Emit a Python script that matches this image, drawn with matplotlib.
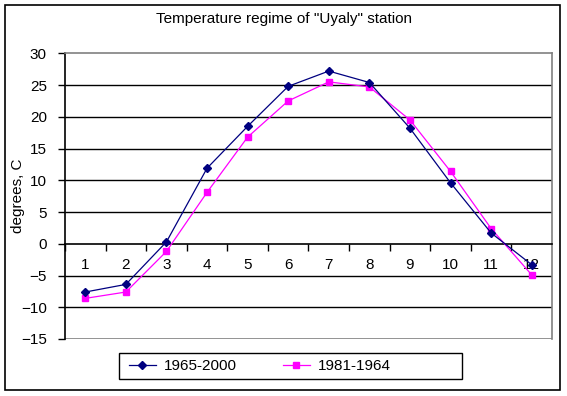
import matplotlib
matplotlib.use('Agg')
import matplotlib.pyplot as plt
from matplotlib.patches import Rectangle

months = [1, 2, 3, 4, 5, 6, 7, 8, 9, 10, 11, 12]
month_labels = ['1', '2', '3', '4', '5', '6', '7', '8', '9', '10', '11', '12']
temp_1965_2000 = [-7.6, -6.4, 0.3, 11.9, 18.5, 24.8, 27.2, 25.4, 18.2, 9.6, 1.7, -3.3]
temp_1981_1964 = [-8.6, -7.6, -1.2, 8.1, 16.8, 22.5, 25.5, 24.7, 19.5, 11.4, 2.4, -4.9]
y_ticks = [-15, -10, -5, 0, 5, 10, 15, 20, 25, 30]
grid_levels = [-10, -5, 5, 10, 15, 20, 25]

plt.rcParams['font.family'] = ['Liberation Sans', 'DejaVu Sans']
plt.rcParams['font.size'] = 11

fig = plt.figure(figsize=(5.67, 3.96), dpi=100)
ax = fig.add_axes([65 / 567, 1 - 339 / 396, 487 / 567, (339 - 53.3) / 396])

ax.hlines(grid_levels, 0.5, 12.5, colors='black', linewidth=1, zorder=1)
ax.axhline(-15, color='#808080', linewidth=1.2, zorder=1)

ax.plot(months, temp_1965_2000, color='#000080', linewidth=0.9, marker='D',
        markersize=4.2, label='1965-2000', zorder=4)
ax.plot(months, temp_1981_1964, color='#FF00FF', linewidth=0.9, marker='s',
        markersize=4.2, label='1981-1964', zorder=3)

ax.set_xlim(0.5, 12.5)
ax.set_ylim(-15, 30)

ax.spines['bottom'].set_position(('data', 0))
ax.spines['bottom'].set_color('black')
ax.spines['left'].set_color('black')
ax.spines['top'].set_color('#808080')
ax.spines['right'].set_color('#808080')
for s in ax.spines.values():
    s.set_linewidth(1.2)

# ticks at category boundaries, labels at category centers
ax.set_xticks([m + 0.5 for m in months[:-1]] + [0.5])
ax.set_xticklabels([])
ax.tick_params(axis='x', which='major', direction='out', length=5, width=1, color='black')
ax.set_xticks(months, minor=True)
ax.set_xticklabels(month_labels, minor=True)
ax.tick_params(axis='x', which='minor', length=0, pad=10, labelsize=11)

ax.set_yticks(y_ticks)
ax.tick_params(axis='y', direction='out', length=5, width=1, pad=8, labelsize=11)
ax.set_ylabel('degrees, C', fontsize=11)
ax.yaxis.set_label_coords((25 - 65) / 487, 0.5)

fig.text(0.5, 1 - 19 / 396, 'Temperature regime of "Uyaly" station',
         ha='center', va='center', fontsize=11)

handles, labels = ax.get_legend_handles_labels()
fig.legend(handles, labels, loc='center left', bbox_to_anchor=(118 / 567, 1 - 366 / 396),
           ncol=2, frameon=False, fontsize=11, handlelength=1.8, handletextpad=0.5,
           columnspacing=3.0, borderpad=0.2)
fig.patches.append(Rectangle((119 / 567, 1 - 379 / 396), 343 / 567, 26 / 396,
                             transform=fig.transFigure, fill=False,
                             edgecolor='black', linewidth=1))
fig.patches.append(Rectangle((5 / 567, 1 - 390 / 396), 555 / 567, 385 / 396,
                             transform=fig.transFigure, fill=False,
                             edgecolor='black', linewidth=1.2))

fig.savefig('out.png', dpi=100)
